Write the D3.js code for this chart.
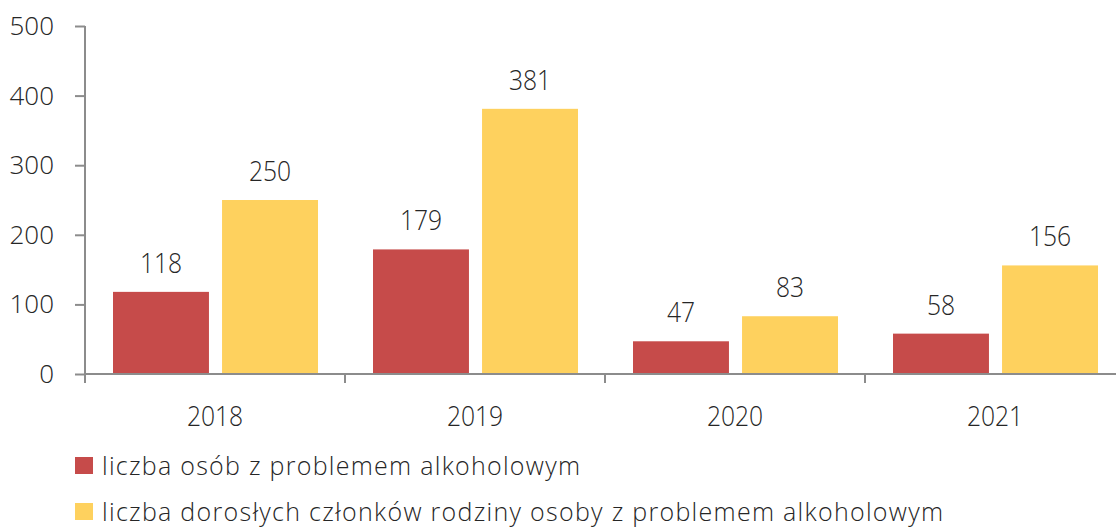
<!DOCTYPE html>
<html><head><meta charset="utf-8">
<script src="https://cdn.jsdelivr.net/npm/d3@7"></script>
<style>
html,body{margin:0;padding:0;background:#fff;}
svg{display:block;font-family:"Open Sans","Segoe UI",sans-serif;font-weight:300;}
text{fill:#262626;}
</style></head>
<body><svg id="c" width="1116" height="527"></svg>
<script>
const years = ["2018","2019","2020","2021"];
const seriesNames = ["liczba osób z problemem alkoholowym","liczba dorosłych członków rodziny osoby z problemem alkoholowym"];
const seriesA = [118,179,47,58];
const seriesB = [250,381,83,156];
const yTicks = [0,100,200,300,400,500];
const colors = ["#C64B4A","#FED15E"];

const svg = d3.select("#c");
const x0 = d3.scaleBand().domain(years).range([85,1125]).padding(0);
const x1 = d3.scaleBand().domain([0,1]).range([28,233]).paddingInner(0.12).paddingOuter(0);
const y = d3.scaleLinear().domain([0,500]).range([374,26]);
const series = [seriesA, seriesB];
const axisColor = "#8C8C8C";
const numSX = 0.88;

// bars
series.forEach((vals,si)=>{
  svg.append("g").selectAll("rect").data(vals).join("rect")
    .attr("x",(d,i)=>x0(years[i])+x1(si))
    .attr("width",x1.bandwidth())
    .attr("y",d=>y(d))
    .attr("height",d=>y(0)-y(d))
    .attr("fill",colors[si]);
  svg.append("g").selectAll("text").data(vals).join("text")
    .attr("transform",(d,i)=>`translate(${x0(years[i])+x1(si)+x1.bandwidth()/2},${y(d)-19}) scale(${numSX},1)`)
    .attr("text-anchor","middle")
    .attr("font-size",28)
    .text(d=>d);
});

// y axis
const ya = svg.append("g").attr("transform","translate(85,0)")
  .call(d3.axisLeft(y).tickValues(yTicks).tickSize(10).tickPadding(0).tickFormat(d3.format("d")));
ya.attr("font-family",null).attr("font-size",null);
ya.select(".domain").attr("stroke",axisColor).attr("stroke-width",2).attr("d","M0,26V374");
ya.selectAll(".tick line").attr("stroke",axisColor).attr("stroke-width",2);
ya.selectAll(".tick text").attr("x",-31).attr("dy","0.33em").attr("font-size",26).attr("fill","#262626");

// x axis
const xa = svg.append("g").attr("transform","translate(0,374)");
xa.append("line").attr("x1",85).attr("x2",1116).attr("y1",0).attr("y2",0).attr("stroke",axisColor).attr("stroke-width",2);
xa.selectAll("line.t").data(years.concat(["end"])).join("line").attr("class","t")
  .attr("x1",(d,i)=>85+i*x0.step()).attr("x2",(d,i)=>85+i*x0.step())
  .attr("y1",0).attr("y2",9).attr("stroke",axisColor).attr("stroke-width",2);
xa.selectAll("text").data(years).join("text")
  .attr("transform",d=>`translate(${x0(d)+x0.bandwidth()/2},52) scale(${numSX},1)`)
  .attr("text-anchor","middle").attr("font-size",28).text(d=>d);

// legend
const legendWidths = [478, 841];
const lg = svg.append("g");
seriesNames.forEach((n,i)=>{
  lg.append("rect").attr("x",75).attr("y",457+i*46).attr("width",18).attr("height",17).attr("fill",colors[i]);
  lg.append("text").attr("x",102).attr("y",475+i*46).attr("font-size",25)
    .attr("textLength",legendWidths[i]).attr("lengthAdjust","spacing").text(n);
});
</script></body></html>
